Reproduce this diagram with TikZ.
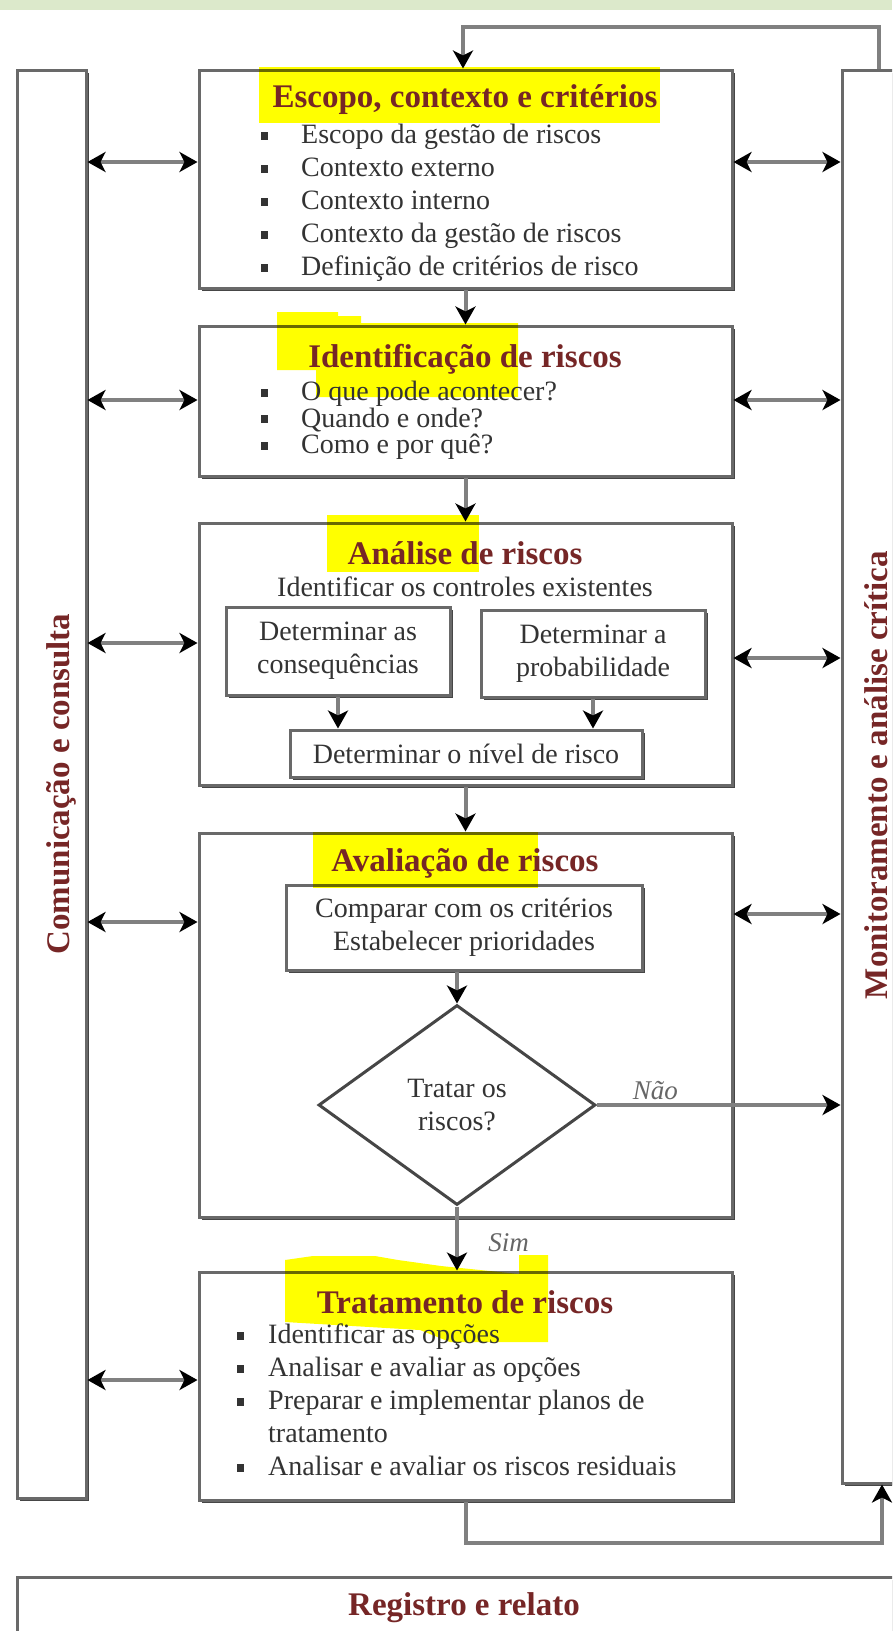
\documentclass[tikz,border=0pt]{standalone}
\usepackage{fontspec}
\setmainfont{Liberation Serif}
\usepackage{tikz}
\usetikzlibrary{arrows.meta,positioning,shapes.geometric,shadows}
\definecolor{RiskRed}{RGB}{118,38,38}
\definecolor{EdgeGray}{RGB}{105,105,105}
\definecolor{ShadeGray}{RGB}{70,70,70}
\definecolor{WireGray}{RGB}{128,128,128}
\definecolor{MarkYellow}{RGB}{255,255,0}
\definecolor{SoftGreen}{RGB}{220,233,203}
\newcommand\bul[1][40pt]{\makebox[#1][l]{\rule[4pt]{7pt}{8pt}}}

\begin{document}
\begin{tikzpicture}[x=1pt,y=-1pt,>={Stealth[length=18pt,width=20pt,inset=5pt,color=black]},every node/.style={font=\fontsize{28}{33}\selectfont,text=black!80}]
\tikzset{boxframe/.style={draw=EdgeGray,line width=3pt,fill=white,inner sep=0pt,drop shadow={shadow xshift=3pt,shadow yshift=-3pt,fill=ShadeGray,opacity=1}},boxtitle/.style={font=\fontsize{33}{38}\selectfont\bfseries,text=RiskRed},itemlist/.style={align=left,anchor=north west,inner sep=0pt},wire/.style={draw=WireGray,line width=4pt},hilite/.style={fill=MarkYellow}}
\path[use as bounding box,clip] (0,0) rectangle (892,1631);
\fill[white] (0,0) rectangle (892,1631);
\fill[SoftGreen] (0,0) rectangle (892,10);
\node[boxframe,minimum width=69pt,minimum height=1428pt] (com) at (51.5,784) {};
\node[boxframe,minimum width=88pt,minimum height=1413pt] (mon) at (886,776.5) {};
\node[boxframe,minimum width=913pt,minimum height=103pt] (reg) at (473.5,1628.5) {};
\node[boxframe,minimum width=533pt,minimum height=218pt] (esc) at (465.5,179) {};
\node[boxframe,minimum width=533pt,minimum height=150pt] (ide) at (465.5,401) {};
\node[boxframe,minimum width=533pt,minimum height=262pt] (ana) at (465.5,654) {};
\node[boxframe,minimum width=533pt,minimum height=384pt] (ava) at (465.5,1025) {};
\node[boxframe,minimum width=533pt,minimum height=228pt] (tra) at (465.5,1386) {};
\node[boxframe,minimum width=224pt,minimum height=88pt,align=center] (cons) at (338,651) {Determinar as\\consequências};
\node[boxframe,minimum width=224pt,minimum height=87pt,align=center] (prob) at (593,653.5) {Determinar a\\probabilidade};
\node[boxframe,minimum width=352pt,minimum height=47pt] (nivel) at (466,753.5) {Determinar o nível de risco};
\node[boxframe,minimum width=356pt,minimum height=85pt,align=center] (comp) at (464,927.5) {Comparar com os critérios\\Estabelecer prioridades};
\node[diamond,draw=ShadeGray,line width=3pt,minimum width=277pt,minimum height=200pt,inner sep=0pt,align=center] (decide) at (457,1105) {Tratar os\\riscos?};
\begin{scope}[blend mode=multiply]
\fill[hilite] (259,67) rectangle (660,123);
\fill[hilite] (277,312) -- (338,312) -- (338,316) -- (361,316) -- (361,323) -- (518,323) -- (518,397) -- (316,397) -- (316,370) -- (277,370) -- cycle;
\fill[hilite] (327,515) rectangle (479,572);
\fill[hilite] (313,832) rectangle (538,888);
\fill[hilite] (285,1260) -- (313,1256) -- (375,1256) -- (398,1260) -- (441,1266) -- (519,1274) -- (519,1255) -- (548,1255) -- (548,1342) -- (450,1342) -- (420,1330) -- (285,1322) -- cycle;
\end{scope}
\node[boxtitle] (esct) at (465,100) {Escopo, contexto e critérios};
\node[itemlist] (escl) at (261,124) {\bul Escopo da gestão de riscos\\\bul Contexto externo\\\bul Contexto interno\\\bul Contexto da gestão de riscos\\\bul Definição de critérios de risco};
\node[boxtitle] (idet) at (465,359) {Identificação de riscos};
\node[itemlist,font=\fontsize{28}{26.5}\selectfont] (idel) at (261,381) {\bul O que pode acontecer?\\\bul Quando e onde?\\\bul Como e por quê?};
\node[boxtitle] (anat) at (465,553) {Análise de riscos};
\node (anas) at (465,587) {Identificar os controles existentes};
\node[boxtitle] (avat) at (465,863) {Avaliação de riscos};
\node[boxtitle] (trat) at (465,1302) {Tratamento de riscos};
\node[itemlist] (tral) at (237,1324) {\bul[31pt]Identificar as opções\\\bul[31pt]Analisar e avaliar as opções\\\bul[31pt]Preparar e implementar planos de\\\hspace*{31pt}tratamento\\\bul[31pt]Analisar e avaliar os riscos residuais};
\node[boxtitle] (regt) at (464,1608) {Registro e relato};
\node[boxtitle,rotate=90] (comt) at (61,784) {Comunicação e consulta};
\node[boxtitle,rotate=90] (mont) at (876,775) {Monitoramento e análise crítica};
\coordinate (fbR) at (879,27);
\coordinate (fbL) at (463,27);
\coordinate (loopL) at (465.5,1543);
\coordinate (loopR) at (882,1543);
\draw[wire,->] (fbR |- mon.north) -- (fbR) -- (fbL) -- (fbL |- esc.north);
\draw[wire,->] (esc) -- (ide);
\draw[wire,->] (ide) -- (ana);
\draw[wire,->] (ana) -- (ava);
\draw[wire,->] (cons.south) -- (cons.south |- nivel.north);
\draw[wire,->] (prob.south) -- (prob.south |- nivel.north);
\draw[wire,->] (decide.north |- comp.south) -- (decide.north);
\draw[wire,->] (decide.south) -- (decide.south |- tra.north) node[pos=0.57,right=26pt,font=\fontsize{27}{30}\selectfont\itshape,text=black!60] (sim) {Sim};
\draw[wire,->] (decide.east) -- (decide.east -| mon.west) node[pos=0.24,above,font=\fontsize{27}{30}\selectfont\itshape,text=black!60] (nao) {Não};
\draw[wire,->] (tra.south) -- (loopL) -- (loopR) -- (loopR |- mon.south);
\draw[wire,<->] (com.east |- 0,162) -- (esc.west |- 0,162);
\draw[wire,<->] (esc.east |- 0,162) -- (mon.west |- 0,162);
\draw[wire,<->] (com.east |- 0,400) -- (ide.west |- 0,400);
\draw[wire,<->] (ide.east |- 0,400) -- (mon.west |- 0,400);
\draw[wire,<->] (com.east |- 0,643) -- (ana.west |- 0,643);
\draw[wire,<->] (ana.east |- 0,658) -- (mon.west |- 0,658);
\draw[wire,<->] (com.east |- 0,922) -- (ava.west |- 0,922);
\draw[wire,<->] (ava.east |- 0,914) -- (mon.west |- 0,914);
\draw[wire,<->] (com.east |- 0,1380) -- (tra.west |- 0,1380);
\end{tikzpicture}
\end{document}
